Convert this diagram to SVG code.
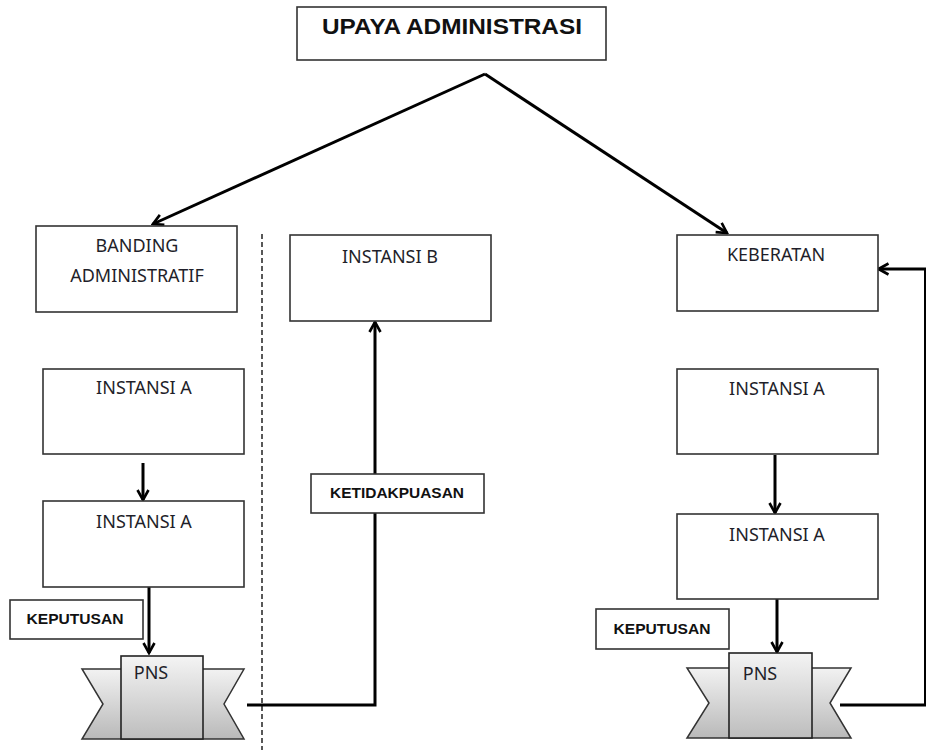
<svg xmlns="http://www.w3.org/2000/svg" width="926" height="750" viewBox="0 0 926 750">
  <defs>
    <style>
      .box { fill: #ffffff; stroke: #333333; stroke-width: 1.6; }
      .lbl { font-family: "Noto Sans", "Liberation Sans", sans-serif; font-size: 18px; fill: #1f1f2a; text-anchor: middle; }
      .bold { font-family: "Liberation Sans", Arial, sans-serif; font-weight: bold; fill: #111111; text-anchor: middle; }
      .wire { fill: none; stroke: #000000; stroke-width: 3; }
      .ribbon { fill: url(#ribbonFill); stroke: #333333; stroke-width: 1.5; stroke-linejoin: miter; }
      .plate { fill: url(#plateFill); stroke: #222222; stroke-width: 1.6; }
    </style>
    <linearGradient id="ribbonFill" x1="0" y1="0" x2="0" y2="1">
      <stop offset="0" stop-color="#f2f2f2"/>
      <stop offset="1" stop-color="#b9b9b9"/>
    </linearGradient>
    <linearGradient id="plateFill" x1="0" y1="0" x2="0" y2="1">
      <stop offset="0" stop-color="#f4f4f4"/>
      <stop offset="1" stop-color="#bdbdbd"/>
    </linearGradient>
    <marker id="head" viewBox="0 0 14 14" refX="12" refY="7" markerWidth="14" markerHeight="14" markerUnits="userSpaceOnUse" orient="auto">
      <path d="M2,1.5 L12,7 L2,12.5" fill="none" stroke="#000000" stroke-width="2.6" stroke-linejoin="miter"/>
    </marker>
  </defs>

  <rect width="926" height="750" fill="#ffffff"/>

  <!-- separator between the two appeal routes -->
  <line x1="262" y1="234" x2="262" y2="750" stroke="#222222" stroke-width="1.5" stroke-dasharray="5,3"/>

  <!-- connectors -->
  <g id="connectors">
    <path class="wire" d="M485,74 L153,224" marker-end="url(#head)"/>
    <path class="wire" d="M485,74 L727,233" marker-end="url(#head)"/>
    <path class="wire" d="M143,463 V500" marker-end="url(#head)"/>
    <path class="wire" d="M149,587 V653" marker-end="url(#head)"/>
    <path class="wire" d="M247,705 H375 V322" marker-end="url(#head)"/>
    <path class="wire" d="M775,455 V513" marker-end="url(#head)"/>
    <path class="wire" d="M777,599 V652" marker-end="url(#head)"/>
    <path class="wire" d="M840,705 H925.5 V269 H878.5" marker-end="url(#head)"/>
  </g>

  <g id="upaya">
    <rect class="box" x="297" y="7" width="309" height="53"/>
    <text class="bold" x="452" y="34" font-size="22.5" textLength="260" lengthAdjust="spacingAndGlyphs">UPAYA ADMINISTRASI</text>
  </g>

  <g id="banding">
    <rect class="box" x="36" y="226" width="201" height="86"/>
    <text class="lbl" x="137" y="252">BANDING</text>
    <text class="lbl" x="137" y="282">ADMINISTRATIF</text>
  </g>

  <g id="instansi-b">
    <rect class="box" x="290" y="235" width="201" height="86"/>
    <text class="lbl" x="390" y="263">INSTANSI B</text>
  </g>

  <g id="keberatan">
    <rect class="box" x="677" y="235" width="201" height="76"/>
    <text class="lbl" x="776" y="261">KEBERATAN</text>
  </g>

  <g id="banding-instansi-a1">
    <rect class="box" x="43" y="369" width="201" height="85"/>
    <text class="lbl" x="144" y="394">INSTANSI A</text>
  </g>

  <g id="banding-instansi-a2">
    <rect class="box" x="43" y="501" width="201" height="86"/>
    <text class="lbl" x="144" y="528">INSTANSI A</text>
  </g>

  <g id="keberatan-instansi-a1">
    <rect class="box" x="677" y="369" width="201" height="85"/>
    <text class="lbl" x="777" y="395">INSTANSI A</text>
  </g>

  <g id="keberatan-instansi-a2">
    <rect class="box" x="677" y="514" width="201" height="85"/>
    <text class="lbl" x="777" y="541">INSTANSI A</text>
  </g>

  <g id="ketidakpuasan">
    <rect class="box" x="311" y="474" width="173" height="39"/>
    <text class="bold" x="397" y="498" font-size="15.5" textLength="134" lengthAdjust="spacingAndGlyphs">KETIDAKPUASAN</text>
  </g>

  <g id="keputusan-left">
    <rect class="box" x="10" y="600" width="133" height="39"/>
    <text class="bold" x="75" y="624" font-size="15.5" textLength="97" lengthAdjust="spacingAndGlyphs">KEPUTUSAN</text>
  </g>

  <g id="keputusan-right">
    <rect class="box" x="596" y="609" width="133" height="40"/>
    <text class="bold" x="662" y="634" font-size="15.5" textLength="97" lengthAdjust="spacingAndGlyphs">KEPUTUSAN</text>
  </g>

  <g id="pns-left">
    <polygon class="ribbon" points="82,669 244,669 224,704 244,739 82,739 103,704"/>
    <rect class="plate" x="121" y="656" width="82" height="83"/>
    <text class="lbl" x="151" y="679" font-size="16.5">PNS</text>
  </g>

  <g id="pns-right">
    <polygon class="ribbon" points="687,668 851,668 830,703 851,738 687,738 709,703"/>
    <rect class="plate" x="729" y="653" width="83" height="85"/>
    <text class="lbl" x="760" y="680" font-size="16.5">PNS</text>
  </g>
</svg>
